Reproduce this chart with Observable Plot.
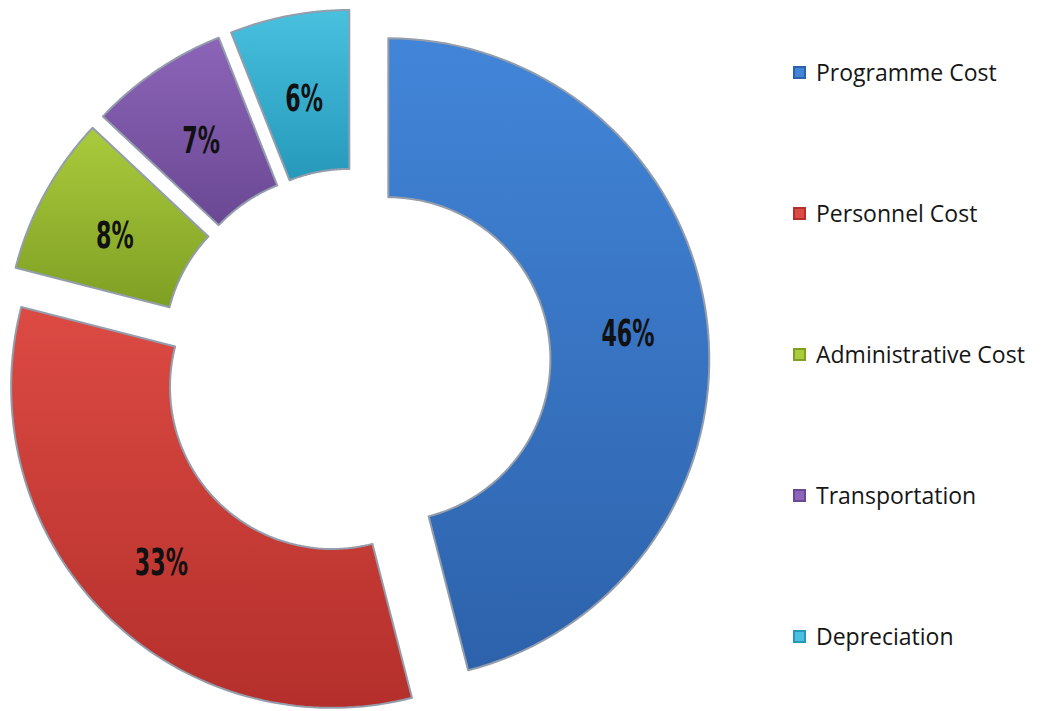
<!DOCTYPE html>
<html><head><meta charset="utf-8">
<script src="https://cdn.jsdelivr.net/npm/d3@7"></script>
<script src="https://cdn.jsdelivr.net/npm/@observablehq/plot@0.6"></script>
<style>
body{margin:0;background:#fff;}
#wrap{position:relative;width:1044px;height:711px;overflow:hidden;}
#chart{position:absolute;left:0;top:0;}
#legend{position:absolute;left:793px;top:0;font-family:"Open Sans",sans-serif;font-size:23px;color:#161616;}
.item{position:absolute;left:0;display:flex;align-items:center;white-space:nowrap;height:30px;}
.sw{width:13px;height:13px;margin-right:10px;box-sizing:border-box;border:2px solid;}
</style>
</head><body>
<div id="wrap"><div id="chart"></div><div id="legend"></div></div>
<script>
const categories = ["Programme Cost","Personnel Cost","Administrative Cost","Transportation","Depreciation"];
const values = [46,33,8,7,6];
const labels = ["46%","33%","8%","7%","6%"];
const colorsLight = ["#4285d8","#dc4a43","#aacb3c","#8c64b8","#48c0de"];
const colorsDark  = ["#2d62ab","#b42f2b","#7f9f24","#6a4893","#2699bb"];

const innerRatio = 0.505;
const explode = 0.103;

const arcs = d3.pie().sort(null).value(d => d)(values);
const pts = [];
const labs = [];
arcs.forEach((a, i) => {
  const mid = (a.startAngle + a.endAngle) / 2;
  const ox = explode * Math.sin(mid), oy = explode * Math.cos(mid);
  const N = 80;
  for (let k = 0; k <= N; k++) {
    const t = a.startAngle + (a.endAngle - a.startAngle) * k / N;
    pts.push({cat: categories[i], x: ox + Math.sin(t), y: oy + Math.cos(t)});
  }
  for (let k = N; k >= 0; k--) {
    const t = a.startAngle + (a.endAngle - a.startAngle) * k / N;
    pts.push({cat: categories[i], x: ox + innerRatio * Math.sin(t), y: oy + innerRatio * Math.cos(t)});
  }
  const rm = (1 + innerRatio) / 2;
  labs.push({label: labels[i], x: ox + rm * Math.sin(mid), y: oy + rm * Math.cos(mid)});
});

const fills = categories.map((c, i) => `url(#grad${i})`);

const chart = Plot.plot({
  width: 780, height: 711, margin: 0,
  x: {domain: [-355/321, 425/321], axis: null},
  y: {domain: [(363-711)/321, 363/321], axis: null},
  color: {domain: categories, range: fills},
  marks: [
    Plot.line(pts, {x: "x", y: "y", z: "cat", fill: "cat", stroke: "#939dab", strokeWidth: 2, curve: "linear-closed"}),
    Plot.text(labs, {x: "x", y: "y", dy: 5, text: "label", fontSize: 37, fontWeight: "bold",
      fontFamily: "'DejaVu Sans',sans-serif", fill: "#111"})
  ]
});

// condense the slice labels horizontally
chart.querySelectorAll('g[aria-label="text"] text').forEach(t => {
  const tr = t.getAttribute("transform");
  if (tr) {
    t.setAttribute("transform", tr + " scale(0.6,1)");
  } else {
    const x = +t.getAttribute("x") || 0, y = +t.getAttribute("y") || 0;
    t.removeAttribute("x"); t.removeAttribute("y");
    t.setAttribute("transform", `translate(${x},${y}) scale(0.6,1)`);
  }
});

// gradients
const ns = "http://www.w3.org/2000/svg";
const defs = document.createElementNS(ns, "defs");
categories.forEach((c, i) => {
  const g = document.createElementNS(ns, "linearGradient");
  g.setAttribute("id", `grad${i}`);
  g.setAttribute("x1", "0"); g.setAttribute("y1", "0");
  g.setAttribute("x2", "0"); g.setAttribute("y2", "1");
  [[0, colorsLight[i]], [1, colorsDark[i]]].forEach(([o, col]) => {
    const s = document.createElementNS(ns, "stop");
    s.setAttribute("offset", o); s.setAttribute("stop-color", col);
    g.appendChild(s);
  });
  defs.appendChild(g);
});
chart.insertBefore(defs, chart.firstChild);
document.getElementById("chart").appendChild(chart);

// legend
const legend = document.getElementById("legend");
categories.forEach((c, i) => {
  const it = document.createElement("div");
  it.className = "item";
  it.style.top = (57 + i * 141) + "px";
  const sw = document.createElement("span");
  sw.className = "sw";
  sw.style.background = colorsLight[i];
  sw.style.borderColor = colorsDark[i];
  const tx = document.createElement("span");
  tx.textContent = c;
  it.appendChild(sw); it.appendChild(tx);
  legend.appendChild(it);
});
</script>
</body></html>
